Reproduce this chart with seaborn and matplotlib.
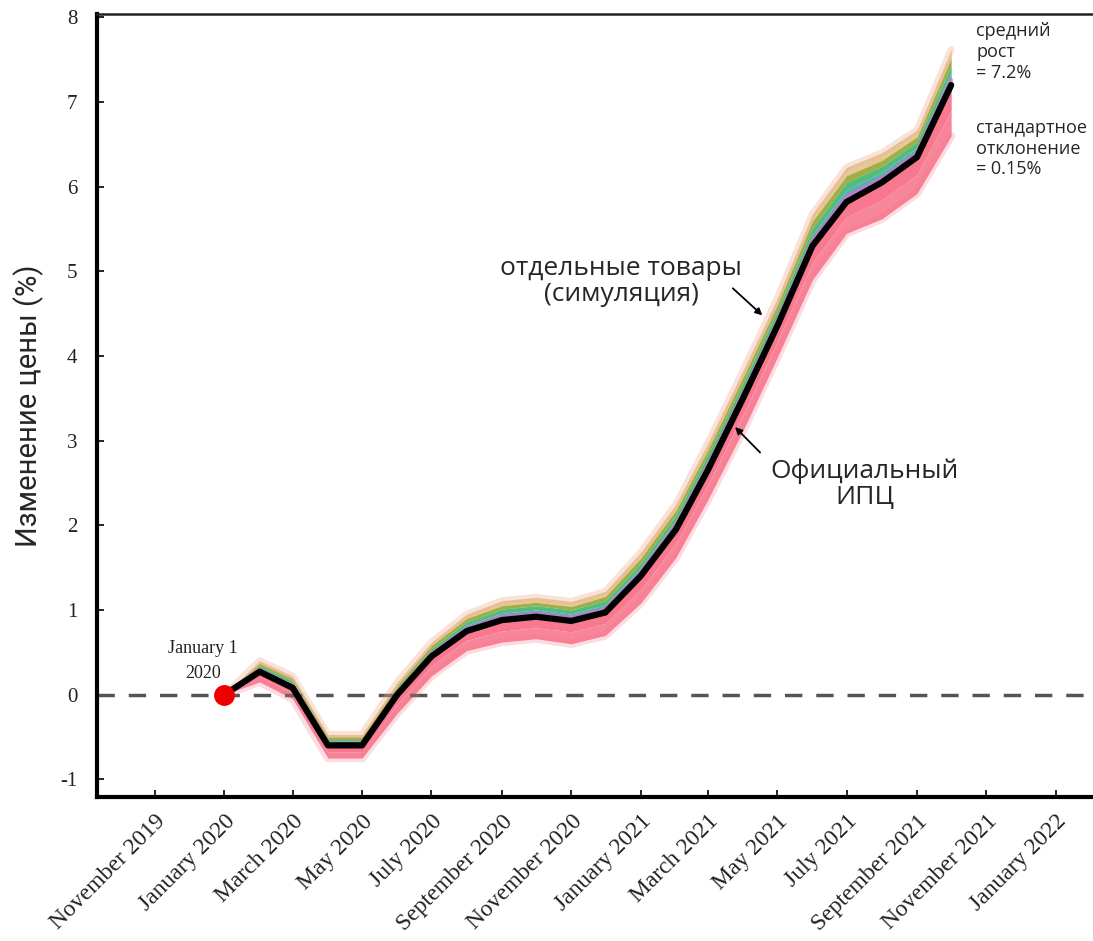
import matplotlib
matplotlib.use('Agg')
import matplotlib.pyplot as plt
import pandas as pd
import seaborn as sns

sns.set_theme(style='white')

# monthly points, Jan 2020 .. Oct 2021
months = ['2020-01', '2020-02', '2020-03', '2020-04', '2020-05', '2020-06',
          '2020-07', '2020-08', '2020-09', '2020-10', '2020-11', '2020-12',
          '2021-01', '2021-02', '2021-03', '2021-04', '2021-05', '2021-06',
          '2021-07', '2021-08', '2021-09', '2021-10']
cpi = [0.00, 0.27, 0.08, -0.60, -0.60, 0.00, 0.45, 0.75, 0.88, 0.92, 0.87,
       0.97, 1.40, 1.95, 2.65, 3.50, 4.35, 5.30, 5.82, 6.05, 6.35, 7.20]

# simulated items, from top of the band down to the bottom
sim_tan = [0.00, 0.40, 0.22, -0.47, -0.47, 0.15, 0.62, 0.95, 1.11, 1.15, 1.10,
           1.22, 1.68, 2.25, 2.97, 3.83, 4.68, 5.68, 6.23, 6.40, 6.67, 7.62]
sim_olive = [0.00, 0.37, 0.19, -0.50, -0.50, 0.11, 0.58, 0.90, 1.05, 1.09, 1.04,
             1.16, 1.61, 2.18, 2.89, 3.75, 4.60, 5.59, 6.13, 6.31, 6.59, 7.52]
sim_green = [0.00, 0.34, 0.16, -0.53, -0.53, 0.08, 0.54, 0.86, 1.01, 1.05, 1.00,
             1.11, 1.55, 2.12, 2.83, 3.68, 4.53, 5.51, 6.05, 6.24, 6.53, 7.43]
sim_teal = [0.00, 0.31, 0.13, -0.55, -0.55, 0.05, 0.51, 0.82, 0.96, 1.00, 0.95,
            1.06, 1.50, 2.06, 2.76, 3.61, 4.46, 5.43, 5.96, 6.17, 6.46, 7.35]
sim_purple = [0.00, 0.29, 0.10, -0.58, -0.58, 0.02, 0.48, 0.78, 0.92, 0.96, 0.91,
              1.01, 1.44, 2.00, 2.70, 3.55, 4.40, 5.36, 5.88, 6.10, 6.40, 7.26]
sim_pink_mid = [0.00, 0.21, 0.02, -0.68, -0.68, -0.11, 0.34, 0.64, 0.75, 0.79, 0.74,
                0.84, 1.24, 1.79, 2.48, 3.31, 4.17, 5.10, 5.64, 5.84, 6.14, 6.90]
sim_pink_low = [0.00, 0.15, -0.05, -0.75, -0.75, -0.22, 0.22, 0.52, 0.62, 0.66, 0.60,
                0.70, 1.08, 1.62, 2.30, 3.12, 3.98, 4.90, 5.45, 5.62, 5.92, 6.60]

tick_dates = ['2019-11', '2020-01', '2020-03', '2020-05', '2020-07', '2020-09',
              '2020-11', '2021-01', '2021-03', '2021-05', '2021-07', '2021-09',
              '2021-11', '2022-01']
tick_labels = ['November 2019', 'January 2020', 'March 2020', 'May 2020',
               'July 2020', 'September 2020', 'November 2020', 'January 2021',
               'March 2021', 'May 2021', 'July 2021', 'September 2021',
               'November 2021', 'January 2022']

df = pd.DataFrame({'date': pd.to_datetime(months), 'cpi': cpi})
x = df['date']
T = pd.Timestamp

pal = sns.color_palette('husl', 8)
pink, orange, olive, green, teal, cyan, blue, magenta = pal

fig = plt.figure(figsize=(10.93, 9.41), dpi=100)
ax = fig.add_axes([97 / 1093, 144 / 941, 1010 / 1093, 783 / 941])

# coloured band of simulated items
ax.fill_between(x, sim_olive, sim_tan, color=orange, alpha=0.5, lw=0)
ax.fill_between(x, sim_green, sim_olive, color=olive, alpha=0.9, lw=0)
ax.fill_between(x, sim_teal, sim_green, color=green, alpha=0.85, lw=0)
ax.fill_between(x, sim_purple, sim_teal, color=teal, alpha=0.9, lw=0)
ax.fill_between(x, cpi, sim_purple, color=blue, alpha=0.85, lw=0)
ax.fill_between(x, sim_pink_mid, cpi, color=pink, alpha=0.95, lw=0)
ax.fill_between(x, sim_pink_low, sim_pink_mid, color=pink, alpha=0.85, lw=0)

# soft edges
sns.lineplot(x=x, y=sim_tan, color='#f0b090', alpha=0.35, lw=5, ax=ax)
sns.lineplot(x=x, y=sim_pink_low, color=pink, alpha=0.25, lw=6, ax=ax)
sns.lineplot(x=x, y=sim_purple, color=magenta, alpha=0.6, lw=3, ax=ax)

ax.axhline(0, color='#555555', lw=2.5, ls=(0, (5, 4)), zorder=1)

# official CPI
sns.lineplot(data=df, x='date', y='cpi', color='black', lw=4.5, ax=ax, zorder=5)
ax.plot(x.iloc[0], cpi[0], 'o', color='#ee0000', ms=14, zorder=6)

ax.set_xlim(T('2019-09-11'), T('2022-02-15'))
ax.set_ylim(-1.21, 8.04)
ax.set_xticks(pd.to_datetime(tick_dates))
ax.set_xticklabels(tick_labels, rotation=45, ha='right', rotation_mode='anchor',
                   fontfamily='Liberation Serif', fontsize=17, color='#222222')
ax.set_yticks(range(-1, 9))
ax.set_yticklabels([str(v) for v in range(-1, 9)], fontfamily='Liberation Serif',
                   fontsize=15, color='#222222')
ax.tick_params(axis='both', direction='in', length=5, width=1.2, color='black',
               bottom=True, left=True, pad=14)
ax.tick_params(axis='x', pad=10)
ax.set_xlabel('')
ax.set_ylabel('Изменение цены (%)', fontfamily='Roboto', fontsize=21, labelpad=12)

for side in ['left', 'bottom']:
    ax.spines[side].set_linewidth(3)
    ax.spines[side].set_color('black')
ax.spines['top'].set_linewidth(1.8)
ax.spines['top'].set_color('#222222')
ax.spines['right'].set_visible(False)

# annotations
ax.text(T('2019-12-13'), 0.40, 'January 1\n2020', ha='center', va='center',
        fontfamily='Liberation Serif', fontsize=13, linespacing=1.6, color='#222222')

ax.text(T('2020-12-15'), 4.88, 'отдельные товары\n(симуляция)', ha='center',
        va='center', fontfamily='Open Sans', fontsize=19, linespacing=1.05)
ax.annotate('', xy=(T('2021-04-18'), 4.48), xytext=(T('2021-03-23'), 4.80),
            arrowprops=dict(arrowstyle='-|>', color='black', lw=1.3,
                            mutation_scale=10, shrinkA=0, shrinkB=0))
ax.text(T('2021-07-17'), 2.48, 'Официальный\nИПЦ', ha='center', va='center',
        fontfamily='Open Sans', fontsize=19, linespacing=1.05)
ax.annotate('', xy=(T('2021-03-25'), 3.16), xytext=(T('2021-04-16'), 2.86),
            arrowprops=dict(arrowstyle='-|>', color='black', lw=1.3,
                            mutation_scale=10, shrinkA=0, shrinkB=0))

ax.text(T('2021-10-23'), 7.59, 'средний\nрост\n= 7.2%', ha='left',
        va='center', fontfamily='Open Sans', fontsize=13, linespacing=1.2)
ax.text(T('2021-10-23'), 6.45, 'стандартное\nотклонение\n= 0.15%', ha='left',
        va='center', fontfamily='Open Sans', fontsize=13, linespacing=1.2)

fig.savefig('out.png', dpi=100)
